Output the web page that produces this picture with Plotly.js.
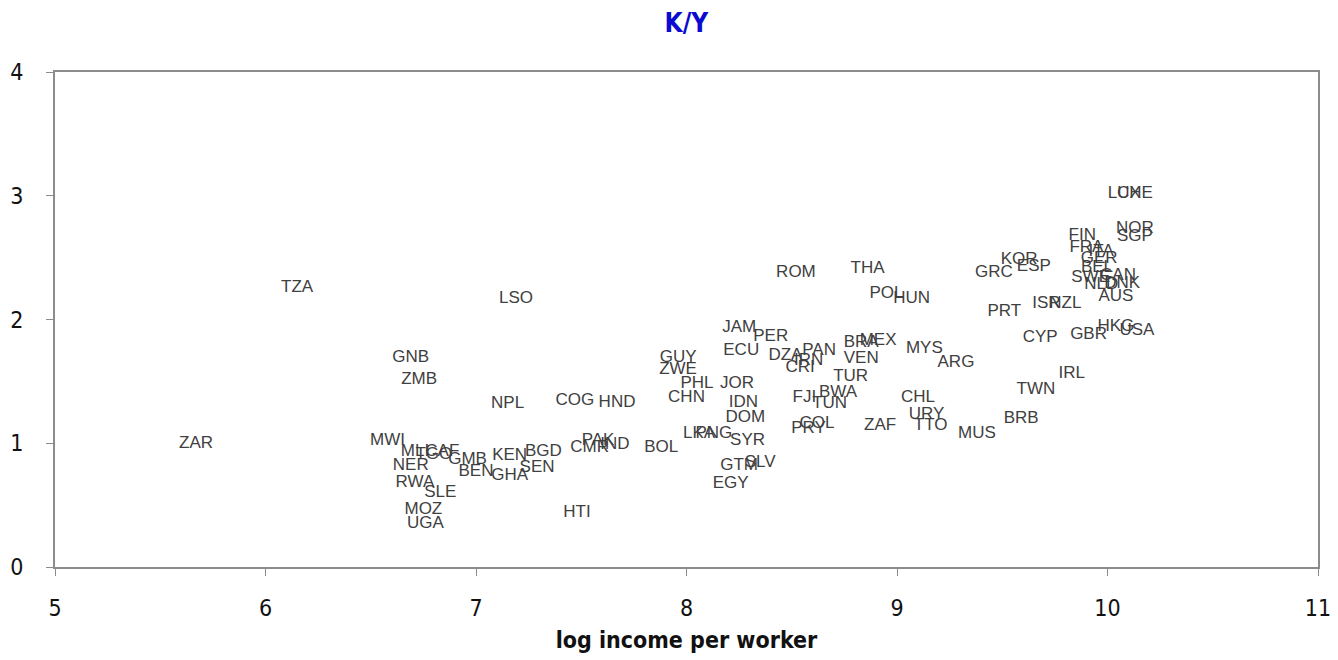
<!DOCTYPE html>
<html>
<head>
<meta charset="utf-8">
<script src="https://cdn.plot.ly/plotly-3.0.1.min.js"></script>
<style>html,body{margin:0;padding:0;background:#fff;}#chart{width:1338px;height:660px;}</style>
</head>
<body>
<div id="chart"></div>
<script>
const countries = ["ZAR","TZA","GNB","ZMB","MWI","MLI","TGO","CAF","GMB","NER","RWA","SLE","MOZ","UGA","BEN","GHA","KEN","BGD","SEN","NPL","LSO","COG","HND","PAK","CMR","IND","HTI","BOL","GUY","ZWE","PHL","JOR","CHN","IDN","DOM","LKA","PNG","SYR","GTM","SLV","EGY","JAM","PER","ECU","DZA","PAN","IRN","CRI","BRA","MEX","VEN","TUR","BWA","FJI","TUN","COL","PRY","ZAF","CHL","URY","TTO","MUS","MYS","ARG","ROM","THA","POL","HUN","GRC","KOR","ESP","PRT","ISR","NZL","CYP","GBR","HKG","USA","IRL","TWN","BRB","FIN","FRA","ITA","GER","BEL","SWE","CAN","NLD","DNK","AUS","NOR","SGP","LUX","CHE"];
const logIncome = [5.67,6.15,6.69,6.73,6.58,6.71,6.80,6.84,6.96,6.69,6.71,6.83,6.75,6.76,7.00,7.16,7.16,7.32,7.29,7.15,7.19,7.47,7.67,7.58,7.54,7.66,7.48,7.88,7.96,7.96,8.05,8.24,8.00,8.27,8.28,8.06,8.13,8.29,8.25,8.35,8.21,8.25,8.40,8.26,8.47,8.63,8.58,8.54,8.83,8.91,8.83,8.78,8.72,8.56,8.68,8.62,8.58,8.92,9.10,9.14,9.16,9.38,9.13,9.28,8.52,8.86,8.95,9.07,9.46,9.58,9.65,9.51,9.71,9.80,9.68,9.91,10.04,10.14,9.83,9.66,9.59,9.88,9.90,9.97,9.96,9.95,9.92,10.05,9.97,10.07,10.04,10.13,10.13,10.08,10.13];
const capitalOutput = [1.00,2.26,1.69,1.51,1.02,0.93,0.91,0.93,0.87,0.82,0.68,0.60,0.46,0.35,0.77,0.74,0.90,0.93,0.80,1.32,2.17,1.34,1.33,1.02,0.96,0.99,0.44,0.96,1.69,1.59,1.48,1.48,1.37,1.33,1.21,1.08,1.08,1.02,0.82,0.84,0.67,1.93,1.86,1.75,1.71,1.75,1.67,1.61,1.81,1.83,1.68,1.54,1.41,1.37,1.32,1.16,1.12,1.14,1.37,1.23,1.14,1.08,1.76,1.65,2.38,2.41,2.21,2.17,2.38,2.48,2.43,2.06,2.13,2.13,1.85,1.88,1.94,1.91,1.56,1.43,1.20,2.68,2.58,2.55,2.49,2.42,2.34,2.35,2.28,2.29,2.18,2.73,2.67,3.02,3.02];

const narrow = 'DejaVu Sans Condensed, Liberation Sans Narrow, Liberation Sans, Arial, sans-serif';

const trace = {
  x: logIncome,
  y: capitalOutput,
  text: countries,
  mode: 'text',
  type: 'scatter',
  textposition: 'middle center',
  textfont: {family: 'Liberation Sans, Arial, sans-serif', size: 17, color: '#404040'},
  cliponaxis: false,
  hoverinfo: 'x+y+text'
};

const layout = {
  width: 1338,
  height: 660,
  margin: {l: 55, r: 20, t: 72, b: 93},
  paper_bgcolor: '#ffffff',
  plot_bgcolor: '#ffffff',
  showlegend: false,
  title: {
    text: '<b>K/Y</b>',
    x: 0.513, xanchor: 'center',
    y: 0.965, yanchor: 'middle',
    font: {family: narrow, size: 26, color: '#0a0ad0'}
  },
  xaxis: {
    range: [5, 11],
    tickmode: 'linear', tick0: 5, dtick: 1,
    showgrid: false, zeroline: false,
    showline: true, linecolor: '#8c8c8c', linewidth: 2, mirror: true,
    ticks: 'outside', ticklen: 7, tickcolor: '#8c8c8c',
    ticklabelstandoff: 12,
    tickfont: {family: narrow, size: 23, color: '#111111'},
    title: {text: '<b>log income per worker</b>', standoff: 12,
      font: {family: narrow, size: 23, color: '#111111'}}
  },
  yaxis: {
    range: [0, 4],
    tickmode: 'linear', tick0: 0, dtick: 1,
    showgrid: false, zeroline: false,
    showline: true, linecolor: '#8c8c8c', linewidth: 2, mirror: true,
    ticks: 'outside', ticklen: 7, tickcolor: '#8c8c8c',
    ticklabelstandoff: 18,
    tickfont: {family: narrow, size: 23, color: '#111111'}
  }
};

Plotly.newPlot('chart', [trace], layout, {displayModeBar: false, staticPlot: true});
</script>
</body>
</html>
